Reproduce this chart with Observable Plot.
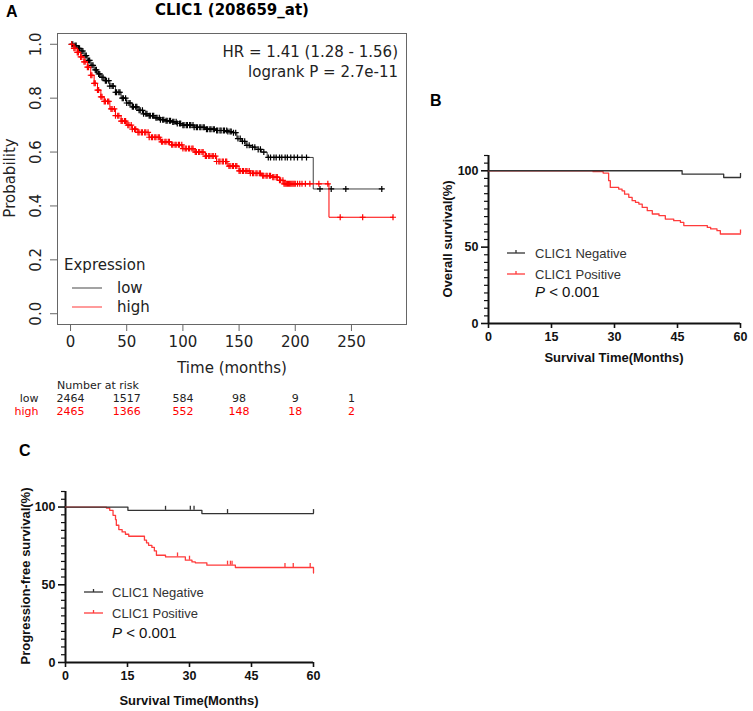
<!DOCTYPE html>
<html><head><meta charset="utf-8">
<script src="https://cdn.jsdelivr.net/npm/d3@7"></script>
<script src="https://cdn.jsdelivr.net/npm/@observablehq/plot@0.6"></script>
<style>
body{margin:0;background:#fff;}
#wrap{position:relative;width:753px;height:711px;overflow:hidden;background:#fff;}
#wrap > svg{position:absolute;overflow:visible;}
</style></head><body><div id="wrap"></div>
<script>
// ---------- Panel A data (KM, months vs probability) ----------
const xTicksA = [0, 50, 100, 150, 200, 250];
const yTicksA = [0, 0.2, 0.4, 0.6, 0.8, 1.0];
const lowT = [0, 3, 6, 9, 12, 15, 18, 21, 24, 27, 30, 35, 40, 45, 50, 55, 60, 65, 70, 75, 80, 85, 90, 95, 100, 110, 120, 130, 140, 145, 148, 152, 156, 160, 165, 170, 175, 216, 278];
const lowS = [1.0, 0.995, 0.985, 0.975, 0.958, 0.94, 0.922, 0.905, 0.89, 0.877, 0.865, 0.845, 0.822, 0.80, 0.782, 0.768, 0.755, 0.742, 0.735, 0.727, 0.72, 0.716, 0.712, 0.706, 0.70, 0.692, 0.685, 0.68, 0.676, 0.672, 0.65, 0.64, 0.625, 0.618, 0.61, 0.60, 0.58, 0.463, 0.463];
const highT = [0, 3, 6, 9, 12, 15, 18, 21, 24, 27, 30, 35, 40, 45, 50, 55, 60, 70, 80, 90, 100, 110, 120, 130, 140, 150, 160, 170, 180, 186, 190, 230, 287];
const highS = [1.0, 0.985, 0.97, 0.953, 0.935, 0.915, 0.885, 0.855, 0.83, 0.805, 0.788, 0.76, 0.735, 0.715, 0.70, 0.685, 0.673, 0.655, 0.638, 0.627, 0.613, 0.60, 0.585, 0.565, 0.548, 0.53, 0.521, 0.512, 0.507, 0.495, 0.482, 0.358, 0.358];
const lowCensorT = [1, 2, 4, 5, 7, 8, 10, 11, 13, 14, 16, 17, 19, 20, 22, 23, 25, 26, 28, 29, 31, 32, 34, 35, 37, 38, 40, 41, 43, 44, 46, 47, 49, 50, 52, 53, 55, 56, 58, 59, 61, 62, 64, 65, 67, 68, 70, 71, 73, 74, 76, 77, 79, 80, 82, 83, 85, 86, 88, 89, 91, 92, 94, 95, 97, 98, 100, 101, 103, 104, 106, 107, 109, 110, 112, 113, 115, 116, 118, 119, 121, 122, 124, 125, 127, 128, 130, 131, 133, 134, 136, 137, 139, 140, 142, 143, 145, 147, 149, 151, 153, 155, 157, 159, 162, 164, 167, 169, 172, 176, 178, 181, 183, 186, 188, 191, 193, 196, 199, 202, 206, 210, 222, 232, 245, 277];
const highCensorT = [1, 3, 4, 6, 7, 9, 10, 12, 13, 15, 16, 18, 19, 21, 22, 24, 25, 27, 28, 30, 31, 33, 34, 36, 37, 39, 40, 42, 43, 45, 46, 48, 49, 51, 52, 54, 55, 57, 58, 60, 61, 63, 64, 66, 67, 69, 70, 72, 73, 75, 76, 78, 79, 81, 82, 84, 85, 87, 88, 90, 91, 93, 94, 96, 97, 99, 100, 102, 103, 105, 106, 108, 109, 111, 112, 114, 115, 117, 118, 120, 121, 123, 124, 126, 127, 129, 130, 132, 133, 135, 136, 138, 139, 141, 142, 144, 145, 147, 148, 150, 151, 153, 154, 156, 157, 159, 160, 162, 163, 165, 166, 168, 169, 171, 172, 174, 175, 177, 178, 180, 181, 183, 184, 186, 187, 189, 190, 191, 192, 193, 194, 195, 196, 197, 198, 199, 200, 202, 204, 206, 209, 213, 221, 229, 240, 260, 287];
const riskTimes = [0, 50, 100, 150, 200, 250];
const riskLow = ["2464", "1517", "584", "98", "9", "1"];
const riskHigh = ["2465", "1366", "552", "148", "18", "2"];

// ---------- Panel B data (overall survival %) ----------
const ticksXBC = [0, 15, 30, 45, 60];
const ticksYBC = [0, 50, 100];
const minorYBC = [5, 10, 15, 20, 25, 30, 35, 40, 45, 55, 60, 65, 70, 75, 80, 85, 90, 95, 105, 110];
const bNegT = [0, 46.1, 56, 60];
const bNegS = [100, 97.8, 95.6, 95.6];
const bNegCensorT = [60];
const bPosT = [0, 24.9, 27.3, 28.6, 29.0, 31.0, 31.8, 32.4, 33.4, 34.2, 35.0, 35.8, 36.6, 37.8, 39.0, 40.6, 42.1, 44.1, 45.7, 46.5, 52.1, 52.9, 54.4, 55.2, 60];
const bPosS = [100, 99.4, 98.5, 93.5, 89.1, 88.0, 86.9, 84.7, 82.6, 80.4, 79.3, 78.2, 76.0, 73.9, 71.7, 70.6, 68.4, 67.3, 66.2, 64.1, 62.9, 61.9, 60.8, 58.6, 58.6];
const bPosCensorT = [60];

// ---------- Panel C data (progression-free survival %) ----------
const cNegT = [0, 15.1, 33.0, 60];
const cNegS = [100, 97.9, 95.8, 95.8];
const cNegCensorT = [24.2, 30.2, 31.1, 39.2, 60];
const cPosT = [0, 9.9, 10.7, 11.5, 12.1, 12.3, 12.9, 13.7, 14.5, 15.3, 19.1, 19.6, 20.1, 20.9, 21.5, 22.0, 24.2, 29.0, 30.6, 31.4, 34.2, 41.1, 60];
const cPosS = [100, 99.4, 97.9, 94.7, 91.9, 88.3, 85.5, 84.0, 82.5, 81.2, 78.7, 76.9, 75.4, 74.0, 71.8, 69.0, 67.9, 65.8, 64.7, 64.1, 62.6, 61.1, 57.5];
const cPosCensorT = [27.1, 30.0, 39.2, 39.9, 40.3, 53.1, 55.1, 59.2];

// ---------- helpers ----------
const rows = (T, S) => T.map((t, i) => ({t, s: S[i]}));
function stepAt(T, S, t) { let v = S[0]; for (let i = 0; i < T.length; i++) if (T[i] <= t) v = S[i]; return v; }
const cens = (T, S, C) => C.map(t => ({t, s: stepAt(T, S, t)}));
const wrap = document.getElementById("wrap");
function place(el, left, top) { el.style.left = left + "px"; el.style.top = top + "px"; wrap.appendChild(el); }

const RED_A = "#ff0000", BLK_A = "#000000";
const RED = "#ff3b3b", BLK = "#333333";

// ---------- Panel A ----------
const plotA = Plot.plot({
  width: 420, height: 380,
  marginLeft: 57, marginRight: 14, marginTop: 33, marginBottom: 56,
  x: {domain: [-11.6, 299]},
  y: {domain: [-0.04, 1.04]},
  style: {fontFamily: "DejaVu Sans", fontSize: "15px", color: "#222", background: "transparent"},
  marks: [
    Plot.frame({stroke: "#666"}),
    Plot.axisX({ticks: xTicksA, tickSize: 7, tickPadding: 5, label: null, stroke: "#666"}),
    Plot.axisY({ticks: yTicksA, tickSize: 7, tickRotate: -90, tickPadding: 10, tickFormat: d3.format(".1f"), label: null, stroke: "#666"}),
    Plot.line(rows(lowT, lowS), {x: "t", y: "s", curve: "step-after", stroke: BLK_A, strokeWidth: 1, strokeOpacity: 0.75}),
    Plot.dot(cens(lowT, lowS, lowCensorT), {x: "t", y: "s", symbol: "plus", r: 2.1, stroke: BLK_A, strokeWidth: 1.2}),
    Plot.line(rows(highT, highS), {x: "t", y: "s", curve: "step-after", stroke: RED_A, strokeWidth: 1}),
    Plot.dot(cens(highT, highS, highCensorT), {x: "t", y: "s", symbol: "plus", r: 2.1, stroke: RED_A, strokeWidth: 1.2})
  ]
});
place(plotA, 0, 0);

// risk table
const riskRows = riskTimes.map((t, i) => ({t, low: riskLow[i], high: riskHigh[i]}));
const plotRisk = Plot.plot({
  width: 420, height: 40,
  marginLeft: 57, marginRight: 14, marginTop: 7, marginBottom: 19.5,
  x: {domain: [-11.6, 299], axis: null},
  y: {type: "point", domain: ["low", "high"], axis: null, padding: 0},
  style: {fontFamily: "DejaVu Sans", fontSize: "11px", background: "transparent"},
  marks: [
    Plot.text(riskRows, {x: "t", y: () => "low", text: "low", fill: "#222"}),
    Plot.text(riskRows, {x: "t", y: () => "high", text: "high", fill: "#ff0000"}),
    Plot.text(["low"], {y: d => d, text: d => d, frameAnchor: "left", dx: -19, textAnchor: "end", fill: "#222"}),
    Plot.text(["high"], {y: d => d, text: d => d, frameAnchor: "left", dx: -19, textAnchor: "end", fill: "#ff0000"})
  ]
});
place(plotRisk, 0, 391);

// ---------- Panels B & C ----------
function kmPanel(opts) {
  const {width, height, ml, mr, mt, mb, negT, negS, negC, posT, posS, posC} = opts;
  return Plot.plot({
    width, height, marginLeft: ml, marginRight: mr, marginTop: mt, marginBottom: mb,
    x: {domain: [0, 60]},
    y: {domain: [0, 110]},
    style: {fontFamily: "Liberation Sans, Arial, sans-serif", fontSize: "12.5px", fontWeight: "bold", color: "#111", background: "transparent"},
    marks: [
      Plot.axisY({ticks: minorYBC, tickSize: 4, tickFormat: () => "", label: null, strokeWidth: 1.2}),
      Plot.axisY({ticks: ticksYBC, tickSize: 7, tickPadding: 3, label: null, strokeWidth: 1.6}),
      Plot.axisX({ticks: ticksXBC, tickSize: 5, tickPadding: 4, label: null, strokeWidth: 1.6}),
      Plot.ruleX([0], {y1: 0, y2: 110, strokeWidth: 2, stroke: "#111"}),
      Plot.ruleY([0], {x1: 0, x2: 60, strokeWidth: 2, stroke: "#111"}),
      Plot.line(rows(posT, posS), {x: "t", y: "s", curve: "step-after", stroke: RED, strokeWidth: 1.3}),
      Plot.ruleX(cens(posT, posS, posC), {x: "t", y1: "s", y2: "s", insetTop: -4, stroke: RED, strokeWidth: 1.3}),
      Plot.line(rows(negT, negS), {x: "t", y: "s", curve: "step-after", stroke: BLK, strokeWidth: 1.3}),
      Plot.ruleX(cens(negT, negS, negC), {x: "t", y1: "s", y2: "s", insetTop: -4, stroke: BLK, strokeWidth: 1.3})
    ]
  });
}
const plotB = kmPanel({width: 353, height: 240, ml: 88, mr: 13, mt: 25, mb: 47,
  negT: bNegT, negS: bNegS, negC: bNegCensorT, posT: bPosT, posS: bPosS, posC: bPosCensorT});
place(plotB, 400, 130);
const plotC = kmPanel({width: 340, height: 240, ml: 65, mr: 27, mt: 21, mb: 48,
  negT: cNegT, negS: cNegS, negC: cNegCensorT, posT: cPosT, posS: cPosS, posC: cPosCensorT});
place(plotC, 0, 470);

// ---------- text / legend overlay ----------
const ov = d3.create("svg").attr("width", 753).attr("height", 711).style("left", "0px").style("top", "0px").style("pointer-events", "none");
function txt(x, y, s, o = {}) {
  const t = ov.append("text").attr("x", x).attr("y", y).attr("dominant-baseline", "central")
    .attr("text-anchor", o.anchor || "start")
    .style("font-family", o.font || "DejaVu Sans").style("font-size", (o.size || 15) + "px")
    .style("font-weight", o.weight || "normal").attr("fill", o.fill || "#222");
  if (o.rotate) t.attr("transform", `rotate(${o.rotate},${x},${y})`);
  t.text(s);
  return t;
}
const ARIAL = "Liberation Sans, Arial, sans-serif";
// Panel A texts
txt(6, 11, "A", {font: ARIAL, size: 16, weight: "bold", fill: "#000"});
txt(232, 10, "CLIC1 (208659_at)", {anchor: "middle", size: 15, weight: "bold", fill: "#000"});
txt(398, 52, "HR = 1.41 (1.28 - 1.56)", {anchor: "end"});
txt(398, 72, "logrank P = 2.7e-11", {anchor: "end"});
txt(10, 178, "Probability", {anchor: "middle", rotate: -90});
txt(232, 368, "Time (months)", {anchor: "middle"});
txt(64, 265, "Expression");
ov.append("line").attr("x1", 72).attr("x2", 102).attr("y1", 288).attr("y2", 288).attr("stroke", "#666").attr("stroke-width", 1.2);
ov.append("line").attr("x1", 72).attr("x2", 102).attr("y1", 307).attr("y2", 307).attr("stroke", "#ff7a7a").attr("stroke-width", 1.5);
txt(117, 288, "low");
txt(117, 307, "high");
txt(98, 385, "Number at risk", {anchor: "middle", size: 11});

// Panel B & C texts/legends
function bcTexts(o) {
  txt(o.lx, o.ly, o.letter, {font: ARIAL, size: 16, weight: "bold", fill: "#000"});
  txt(o.yx, o.yy, o.ytitle, {font: ARIAL, size: 13, weight: "bold", anchor: "middle", rotate: -90, fill: "#111"});
  txt(o.xx, o.xy, "Survival Time(Months)", {font: ARIAL, size: 13, weight: "bold", anchor: "middle", fill: "#111"});
  [[o.g1y, BLK, "CLIC1 Negative"], [o.g2y, RED, "CLIC1 Positive"]].forEach(([gy, col, lab]) => {
    ov.append("line").attr("x1", o.gx0).attr("x2", o.gx1).attr("y1", gy).attr("y2", gy).attr("stroke", col).attr("stroke-width", 1.3);
    const mx = (o.gx0 + o.gx1) / 2;
    ov.append("line").attr("x1", mx).attr("x2", mx).attr("y1", gy - 3).attr("y2", gy).attr("stroke", col).attr("stroke-width", 1.3);
    txt(o.tx, gy, lab, {font: ARIAL, size: 13, fill: "#333"});
  });
  const p = txt(o.tx, o.py, "", {font: ARIAL, size: 15, fill: "#111"});
  p.append("tspan").style("font-style", "italic").text("P");
  p.append("tspan").text(" < 0.001");
}
bcTexts({letter: "B", lx: 430, ly: 100, ytitle: "Overall survival(%)", yx: 447, yy: 239, xx: 614, xy: 357,
  gx0: 507, gx1: 525, g1y: 253, g2y: 274, tx: 535, py: 291});
bcTexts({letter: "C", lx: 19, ly: 450, ytitle: "Progression-free survival(%)", yx: 25, yy: 576, xx: 189, xy: 700,
  gx0: 84, gx1: 103, g1y: 592, g2y: 613, tx: 112, py: 632});
wrap.appendChild(ov.node());
</script></body></html>
